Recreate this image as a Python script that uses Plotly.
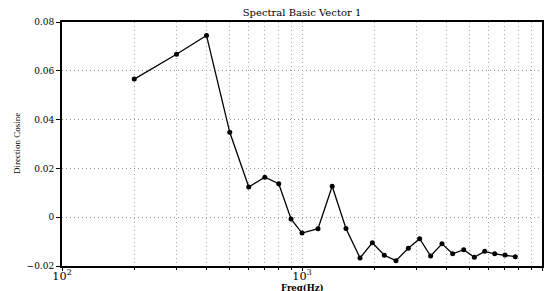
import plotly.graph_objects as go

freq_hz = [200, 300, 400, 500, 600, 700, 800, 900, 1000, 1166, 1336, 1525, 1745,
           1964, 2203, 2464, 2774, 3091, 3436, 3829, 4244, 4718, 5224, 5771,
           6351, 7014, 7740]
direction_cosine = [0.0566, 0.0668, 0.0745, 0.0348, 0.0124, 0.0164, 0.0137, -0.0007,
                    -0.0065, -0.0047, 0.0127, -0.0046, -0.0167, -0.0105, -0.0156,
                    -0.0178, -0.0127, -0.0088, -0.0159, -0.0109, -0.0150, -0.0133,
                    -0.0164, -0.0140, -0.0150, -0.0155, -0.0162]
y_ticks = [-0.02, 0, 0.02, 0.04, 0.06, 0.08]
y_tick_text = ["\u22120.02", "0", "0.02", "0.04", "0.06", "0.08"]

FONT = "DejaVu Serif"
SERIF = "Liberation Serif"
W, H = 544, 291
L, R, T, B = 62, 2, 22, 25
PW, PH = W - L - R, H - T - B

fig = go.Figure()
fig.add_trace(go.Scatter(
    x=freq_hz, y=direction_cosine, mode="lines+markers",
    line=dict(color="black", width=1.3),
    marker=dict(color="black", size=5, symbol="circle"),
    showlegend=False,
))

fig.update_layout(
    width=W, height=H,
    margin=dict(l=L, r=R, t=T, b=B, autoexpand=False),
    paper_bgcolor="white", plot_bgcolor="white",
    font=dict(family=FONT, size=9, color="black"),
    title=dict(text="Spectral Basic Vector 1", x=(L + PW / 2) / W, xanchor="center",
               y=1 - 12 / H, yanchor="middle", yref="container",
               font=dict(family=FONT, size=10, color="black")),
    annotations=[
        dict(text="<b>Freq(Hz)</b>", x=0.5, xref="paper", xanchor="center",
             y=(H - B - 287.5) / PH, yref="paper", yanchor="middle", showarrow=False,
             font=dict(family=FONT, size=8.5, color="black")),
        dict(text="Direction Cosine", x=(17 - L) / PW, xref="paper", xanchor="center",
             y=0.5, yref="paper", yanchor="middle", showarrow=False, textangle=-90,
             font=dict(family=SERIF, size=9, color="black")),
    ],
)

grid_dash = "1px,3px"
fig.update_xaxes(
    type="log", range=[2, 4], dtick=1, exponentformat="power", automargin=False,
    showline=True, linecolor="black", linewidth=2, mirror=True,
    ticks="outside", ticklen=3, tickcolor="black", ticklabelstandoff=-4,
    showgrid=True, gridcolor="#999999", griddash=grid_dash, gridwidth=1,
    minor=dict(ticks="outside", ticklen=2, tickcolor="black",
               showgrid=True, gridcolor="#aaaaaa", griddash=grid_dash, gridwidth=1),
    zeroline=False,
    tickfont=dict(family=FONT, size=9),
)
fig.update_yaxes(
    range=[-0.02, 0.08], tickvals=y_ticks, ticktext=y_tick_text, automargin=False,
    showline=True, linecolor="black", linewidth=2, mirror=True,
    ticks="outside", ticklen=4, tickcolor="black",
    showgrid=True, gridcolor="#999999", griddash=grid_dash, gridwidth=1,
    zeroline=False,
    tickfont=dict(family=FONT, size=9),
)

fig.write_html(
    "out.html",
    config={"displayModeBar": False},
    post_script="document.body.style.margin='0';document.body.style.overflow='hidden';",
)
